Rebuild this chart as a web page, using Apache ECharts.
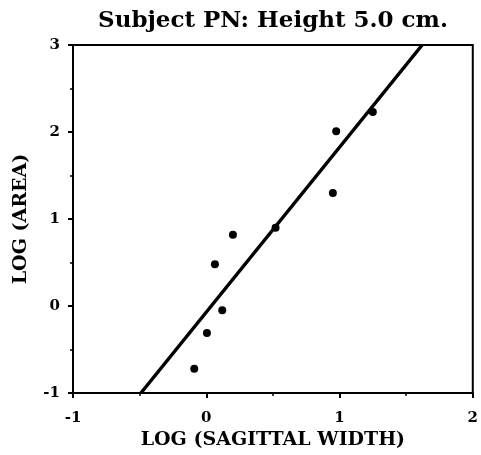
<!DOCTYPE html>
<html>
<head>
<meta charset="utf-8">
<script src="https://cdn.jsdelivr.net/npm/echarts@6/dist/echarts.min.js"></script>
<style>
  html, body { margin: 0; padding: 0; background: #fff; }
  #chart { width: 481px; height: 455px; }
</style>
</head>
<body>
<div id="chart"></div>
<script>
// log sagittal width vs log area
var logWidth = [-0.09, 0.005, 0.12, 0.065, 0.20, 0.52, 0.975, 0.95, 1.25];
var logArea = [-0.72, -0.31, -0.05, 0.48, 0.82, 0.90, 2.01, 1.30, 2.23];
// regression line end points
var fitX = [-0.49, 1.62];
var fitY = [-1, 3];

var points = logWidth.map(function (x, i) { return [x, logArea[i]]; });
var fitLine = fitX.map(function (x, i) { return [x, fitY[i]]; });

var serif = 'DejaVu Serif';
var chart = echarts.init(document.getElementById('chart'));
var option = {
  animation: false,
  title: {
    text: 'Subject PN: Height 5.0 cm.',
    left: 268,
    top: 5,
    textAlign: 'center',
    textStyle: { fontFamily: serif, fontWeight: 'bold', fontSize: 23, color: '#000' }
  },
  grid: {
    left: 73,
    right: 7,
    top: 45,
    bottom: 61,
    show: true,
    borderColor: '#000',
    borderWidth: 2
  },
  xAxis: {
    type: 'value',
    min: -1,
    max: 2,
    interval: 1,
    name: 'LOG (SAGITTAL WIDTH)',
    nameLocation: 'middle',
    nameGap: 38,
    nameTextStyle: { fontFamily: serif, fontWeight: 'bold', fontSize: 19, color: '#000' },
    axisLine: { onZero: false, lineStyle: { color: '#000', width: 2 } },
    axisTick: { length: 5, lineStyle: { color: '#000', width: 2 } },
    minorTick: { show: true, splitNumber: 2, length: 3, lineStyle: { color: '#000', width: 1.5 } },
    splitLine: { show: false },
    axisLabel: { fontFamily: serif, fontWeight: 'bold', fontSize: 15, color: '#000', margin: 18 }
  },
  yAxis: {
    type: 'value',
    min: -1,
    max: 3,
    interval: 1,
    name: 'LOG (AREA)',
    nameLocation: 'middle',
    nameGap: 42,
    nameTextStyle: { fontFamily: serif, fontWeight: 'bold', fontSize: 19, color: '#000' },
    axisLine: { onZero: false, lineStyle: { color: '#000', width: 2 } },
    axisTick: { length: 5, lineStyle: { color: '#000', width: 2 } },
    minorTick: { show: true, splitNumber: 2, length: 3, lineStyle: { color: '#000', width: 1.5 } },
    splitLine: { show: false },
    axisLabel: { fontFamily: serif, fontWeight: 'bold', fontSize: 15, color: '#000', margin: 13 }
  },
  series: [
    {
      type: 'line',
      data: fitLine,
      symbol: 'none',
      lineStyle: { color: '#000', width: 3.5 }
    },
    {
      type: 'scatter',
      data: points,
      symbol: 'circle',
      symbolSize: 8,
      itemStyle: { color: '#000', opacity: 1 }
    }
  ]
};
chart.setOption(option);
</script>
</body>
</html>
